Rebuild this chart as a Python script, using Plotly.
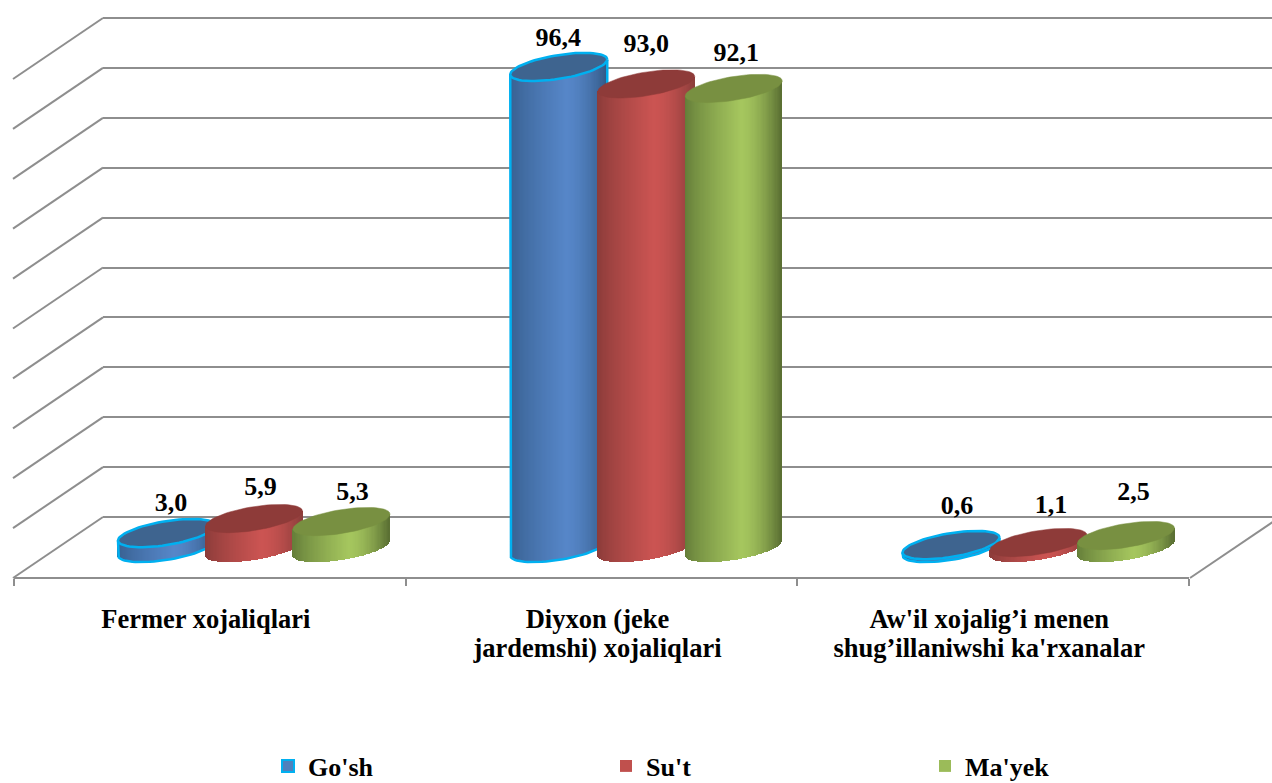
import math
import plotly.graph_objects as go

categories_line1 = ["Fermer xojaliqlari", "Diyxon (jeke", "Aw'il xojalig’i menen"]
categories_line2 = ["", "jardemshi) xojaliqlari", "shug’illaniwshi ka'rxanalar"]
series_names = ["Go'sh", "Su't", "Ma'yek"]
gosh = [3.0, 96.4, 0.6]
sut = [5.9, 93.0, 1.1]
mayek = [5.3, 92.1, 2.5]
grid_values = [0, 10, 20, 30, 40, 50, 60, 70, 80, 90, 100]

# label nudges (px), styling only
label_dx = [[4.5, -0.5, 6], [6.5, 0, 12.5], [11, 2.5, 7.5]]
label_dy = [[29, 27.5, 38], [30, 38, 36], [28, 34, 42]]

W, H = 1272, 783
PX_PER_UNIT = 4.99
BASE_PX, WALL_PX, FLOOR_PX = 548, 517, 578
GROUP_PX = 392.25
G0_PX = 254.0
SERIES_STEP = 87.5 / GROUP_PX
A = 48.5 / GROUP_PX
TILT = 7.5 / PX_PER_UNIT
B = 12.0 / PX_PER_UNIT
N = 80

side = [("#375F8F", "#5686C8", "#335A87"), ("#8A3B39", "#CB5452", "#8C3D3B"), ("#637C38", "#A5C65E", "#596E32")]
tops = ["#3E648F", "#8E3B39", "#789041"]
legend_fill = ["#4F81BD", "#C0504D", "#9BBB59"]
OUTLINE = "#00B0F0"
GRID = "#8E8E8E"
FONT = "Liberation Serif"


def hex2rgb(c):
    return [int(c[i:i + 2], 16) for i in (1, 3, 5)]


def shade(cols, t, peak=0.58):
    a, b, c = map(hex2rgb, cols)
    if t < peak:
        u = t / peak
        p, q = a, b
    else:
        u = (t - peak) / (1 - peak)
        p, q = b, c
    u = u ** 0.8 if t < peak else u ** 1.6
    return "rgb(%d,%d,%d)" % tuple(round(p[i] + (q[i] - p[i]) * u) for i in range(3))


def y_axis_range(zero_px):
    return [(zero_px - H) / PX_PER_UNIT, zero_px / PX_PER_UNIT]


fig = go.Figure()

# wall (native gridlines)
fig.add_trace(go.Scatter(x=[0], y=[0], mode="markers", marker=dict(opacity=0), xaxis="x", yaxis="y",
                         showlegend=False, hoverinfo="skip"))

# side diagonals
back_x = (103 - G0_PX) / GROUP_PX
front_x = (13 - G0_PX) / GROUP_PX
offset_back = (BASE_PX - WALL_PX) / PX_PER_UNIT
offset_front = (BASE_PX - FLOOR_PX) / PX_PER_UNIT
dx, dy = [], []
for g in grid_values:
    dx += [front_x, back_x, None]
    dy += [g + offset_front, g + offset_back, None]
right_front = (1190 - G0_PX) / GROUP_PX
right_back = (1280 - G0_PX) / GROUP_PX
dx += [right_front, right_back]
dy += [offset_front, offset_back]
fig.add_trace(go.Scatter(x=dx, y=dy, mode="lines", line=dict(color=GRID, width=2), xaxis="x2", yaxis="y2",
                         showlegend=False, hoverinfo="skip"))

series = [gosh, sut, mayek]
y_ids = ["y2", "y3", "y4"]
for s, vals in enumerate(series):
    xs, bases, heights, colors = [], [], [], []
    for g, v in enumerate(vals):
        cx = g + (s - 1) * SERIES_STEP
        for i in range(N):
            t = (i + 0.5) / N
            u = 2 * t - 1
            depth = B * math.sqrt(max(0, 1 - u * u))
            tilt = TILT * u
            xs.append(cx + u * A)
            bases.append(tilt - depth)
            heights.append(v + depth)
            colors.append(shade(side[s], t))
    fig.add_trace(go.Bar(x=xs, y=heights, base=bases, width=2 * A / N * 1.4,
                         marker=dict(color=colors, line=dict(width=0)),
                         xaxis="x2", yaxis=y_ids[s], showlegend=False, hoverinfo="skip"))
    if s == 0:
        # silhouette outline of the blue cylinders
        ox, oy = [], []
        for g, v in enumerate(vals):
            cx = g + (s - 1) * SERIES_STEP
            ox.append(cx - A)
            oy.append(v - TILT)
            for k in range(0, 37):
                a = math.pi + math.pi * k / 36
                ox.append(cx + A * math.cos(a))
                oy.append(TILT * math.cos(a) + B * math.sin(a))
            ox.append(cx + A)
            oy.append(v + TILT)
            ox.append(None)
            oy.append(None)
        fig.add_trace(go.Scatter(x=ox, y=oy, mode="lines", line=dict(color=OUTLINE, width=2.5),
                                 xaxis="x2", yaxis=y_ids[s], showlegend=False, hoverinfo="skip"))
    # top ellipses
    ex, ey = [], []
    for g, v in enumerate(vals):
        cx = g + (s - 1) * SERIES_STEP
        for k in range(73):
            a = 2 * math.pi * k / 72
            ex.append(cx + A * math.cos(a))
            ey.append(v + TILT * math.cos(a) + B * math.sin(a))
        ex.append(None)
        ey.append(None)
    line = dict(color=OUTLINE, width=2.5) if s == 0 else dict(color=tops[s], width=0.5)
    fig.add_trace(go.Scatter(x=ex, y=ey, mode="lines", fill="toself", fillcolor=tops[s], line=line,
                             xaxis="x2", yaxis=y_ids[s], showlegend=False, hoverinfo="skip"))

# value labels
lx, ly, lt = [], [], []
for s, vals in enumerate(series):
    for g, v in enumerate(vals):
        lx.append(g + (s - 1) * SERIES_STEP + label_dx[s][g] / GROUP_PX)
        ly.append(v + label_dy[s][g] / PX_PER_UNIT)
        lt.append(f"{v:.1f}".replace(".", ","))
fig.add_trace(go.Scatter(x=lx, y=ly, text=lt, mode="text", textposition="middle center",
                         textfont=dict(family=FONT, size=26, color="black", weight=700),
                         xaxis="x2", yaxis="y4", showlegend=False, hoverinfo="skip"))

# floor axis carrying category labels
fig.add_trace(go.Scatter(x=[0.5], y=[0], mode="markers", marker=dict(opacity=0), xaxis="x3", yaxis="y5",
                         showlegend=False, hoverinfo="skip"))
fig.add_trace(go.Scatter(x=[0.5], y=[0], mode="markers", marker=dict(opacity=0), xaxis="x4", yaxis="y5",
                         showlegend=False, hoverinfo="skip"))

# legend entries
for s, name in enumerate(series_names):
    fig.add_trace(go.Bar(x=[None], y=[None], name=name, xaxis="x3", yaxis="y5",
                         marker=dict(color=legend_fill[s],
                                     line=dict(color=OUTLINE if s == 0 else legend_fill[s], width=2 if s == 0 else 0)),
                         legend="legend" if s == 0 else f"legend{s + 1}", showlegend=True))

leg = dict(orientation="v", bgcolor="rgba(0,0,0,0)", xanchor="left", yanchor="middle", y=1 - 766 / H,
           font=dict(family=FONT, size=26, color="black", weight=700), itemwidth=30, tracegroupgap=0)

hidden = dict(visible=False, fixedrange=True)
label_font = dict(family=FONT, size=26.5, color="black", weight=700)
fig.update_layout(
    width=W, height=H, margin=dict(l=0, r=0, t=0, b=0, pad=0, autoexpand=False), autosize=False,
    paper_bgcolor="white", plot_bgcolor="rgba(0,0,0,0)", barmode="overlay", bargap=0,
    xaxis=dict(domain=[103 / W, 1], range=[0, 1], showgrid=False, zeroline=False, showticklabels=False, ticks="", showline=False),
    yaxis=dict(domain=[0, 1], range=y_axis_range(WALL_PX), tickvals=grid_values, showgrid=True, gridcolor=GRID, gridwidth=2,
               zeroline=False, showticklabels=False, ticks="", showline=False, anchor="x"),
    xaxis2=dict(domain=[0, 1], range=[(0 - G0_PX) / GROUP_PX, (W - G0_PX) / GROUP_PX], **hidden),
    yaxis2=dict(domain=[0, 1], range=y_axis_range(BASE_PX), anchor="x2", **hidden),
    yaxis3=dict(overlaying="y2", range=y_axis_range(BASE_PX), anchor="x2", **hidden),
    yaxis4=dict(overlaying="y2", range=y_axis_range(BASE_PX), anchor="x2", **hidden),
    xaxis3=dict(domain=[14 / W, 1189 / W], range=[0, 3], anchor="free", position=1 - FLOOR_PX / H,
                tickvals=[0.5, 1.5, 2.5], ticktext=categories_line1, ticks="", showgrid=False, zeroline=False,
                showline=True, linecolor=GRID, linewidth=2, ticklabelstandoff=17, ticklabelshift=-4,
                tickfont=label_font,
                minor=dict(tickvals=[0, 1, 2, 3], ticks="outside", ticklen=7, tickwidth=1.5, tickcolor=GRID, showgrid=False)),
    xaxis4=dict(domain=[14 / W, 1189 / W], range=[0, 3], anchor="free", position=1 - FLOOR_PX / H, overlaying="x3",
                tickvals=[0.5, 1.5, 2.5], ticktext=categories_line2, ticks="", showgrid=False, zeroline=False,
                showline=False, ticklabelstandoff=51, ticklabelshift=-4, tickfont=label_font),
    yaxis5=dict(domain=[0, 1], range=y_axis_range(BASE_PX), anchor="x3", **hidden),
    legend=dict(leg, x=268 / W),
    legend2=dict(leg, x=606 / W),
    legend3=dict(leg, x=925 / W),
    showlegend=True,
)

fig.write_html("out.html", config=dict(displayModeBar=False), post_script="document.body.style.margin='0';")
